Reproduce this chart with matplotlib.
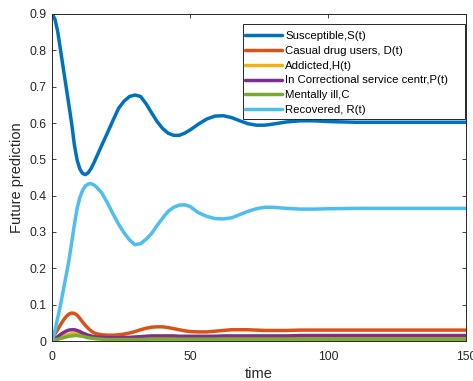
import matplotlib
matplotlib.use("Agg")
import matplotlib.pyplot as plt
from matplotlib.patches import Rectangle

plt.rcParams['font.family'] = ['Liberation Sans', 'DejaVu Sans']

# time grid of the simulation output
t = [0, 1, 2, 3, 4, 5, 6, 7, 8, 9, 10, 11, 12, 13, 14, 15, 16, 18, 20, 22, 24,
     26, 28, 30, 32, 34, 36, 38, 40, 42, 44, 46, 48, 50, 53, 56, 59, 62, 65,
     68, 71, 74, 77, 80, 85, 90, 95, 100, 110, 120, 130, 140, 150]

susceptible = [0.900, 0.885, 0.850, 0.800, 0.750, 0.700, 0.650, 0.600, 0.540,
               0.498, 0.473, 0.461, 0.458, 0.463, 0.474, 0.489, 0.506, 0.540,
               0.573, 0.607, 0.640, 0.660, 0.673, 0.677, 0.673, 0.653, 0.628,
               0.604, 0.585, 0.572, 0.566, 0.566, 0.572, 0.581, 0.597, 0.611,
               0.619, 0.620, 0.615, 0.606, 0.598, 0.594, 0.594, 0.597, 0.603,
               0.606, 0.606, 0.604, 0.602, 0.602, 0.602, 0.602, 0.602]

casual_users = [0.012, 0.020, 0.032, 0.045, 0.057, 0.067, 0.074, 0.077, 0.076,
                0.071, 0.062, 0.052, 0.043, 0.035, 0.028, 0.023, 0.020, 0.017,
                0.016, 0.016, 0.017, 0.019, 0.022, 0.026, 0.031, 0.035, 0.038,
                0.039, 0.039, 0.037, 0.034, 0.031, 0.028, 0.026, 0.025, 0.025,
                0.027, 0.029, 0.031, 0.031, 0.031, 0.030, 0.029, 0.029, 0.029,
                0.030, 0.030, 0.030, 0.030, 0.030, 0.030, 0.030, 0.030]

addicted = [0.002, 0.004, 0.007, 0.010, 0.013, 0.016, 0.018, 0.020, 0.021,
            0.021, 0.020, 0.018, 0.016, 0.014, 0.012, 0.010, 0.009, 0.008,
            0.007, 0.006, 0.006, 0.006, 0.006, 0.006, 0.007, 0.007, 0.008,
            0.008, 0.008, 0.008, 0.008, 0.007, 0.007, 0.007, 0.007, 0.007,
            0.007, 0.007, 0.007, 0.007, 0.007, 0.007, 0.007, 0.007, 0.007,
            0.007, 0.007, 0.007, 0.007, 0.007, 0.007, 0.007, 0.007]

correctional = [0.004, 0.007, 0.012, 0.018, 0.023, 0.027, 0.030, 0.031, 0.031,
                0.029, 0.026, 0.022, 0.019, 0.016, 0.014, 0.012, 0.011, 0.010,
                0.009, 0.009, 0.009, 0.010, 0.010, 0.011, 0.012, 0.013, 0.014,
                0.014, 0.014, 0.014, 0.014, 0.013, 0.013, 0.013, 0.013, 0.013,
                0.013, 0.014, 0.014, 0.014, 0.014, 0.014, 0.014, 0.014, 0.014,
                0.015, 0.015, 0.015, 0.015, 0.015, 0.015, 0.015, 0.015]

mentally_ill = [0.001, 0.003, 0.005, 0.007, 0.009, 0.011, 0.013, 0.014, 0.015,
                0.015, 0.014, 0.013, 0.011, 0.009, 0.008, 0.007, 0.006, 0.005,
                0.004, 0.004, 0.004, 0.004, 0.004, 0.004, 0.004, 0.005, 0.005,
                0.005, 0.005, 0.005, 0.005, 0.005, 0.005, 0.005, 0.005, 0.005,
                0.005, 0.005, 0.005, 0.005, 0.005, 0.005, 0.005, 0.005, 0.005,
                0.005, 0.005, 0.005, 0.005, 0.005, 0.005, 0.005, 0.005]

recovered = [0.000, 0.030, 0.065, 0.100, 0.140, 0.180, 0.220, 0.270, 0.320,
             0.365, 0.395, 0.415, 0.427, 0.432, 0.433, 0.430, 0.424, 0.407,
             0.380, 0.350, 0.322, 0.298, 0.278, 0.265, 0.268, 0.280, 0.296,
             0.318, 0.338, 0.357, 0.368, 0.374, 0.375, 0.370, 0.353, 0.343,
             0.337, 0.336, 0.339, 0.348, 0.357, 0.364, 0.368, 0.368, 0.365,
             0.363, 0.363, 0.364, 0.365, 0.365, 0.365, 0.365, 0.365]

labels = ['Susceptible,S(t)', 'Casual drug users, D(t)', 'Addicted,H(t)',
          'In Correctional service centr,P(t)', 'Mentally ill,C',
          'Recovered, R(t)']
colors = ['#0072BD', '#D95319', '#EDB120', '#7E2F8E', '#77AC30', '#4DBEEE']
series = [susceptible, casual_users, addicted, correctional, mentally_ill,
          recovered]

xticks = [0, 50, 100, 150]
yticks = [0, 0.1, 0.2, 0.3, 0.4, 0.5, 0.6, 0.7, 0.8, 0.9]

W, H = 473, 381
fig = plt.figure(figsize=(W / 100, H / 100), dpi=100)
ax = fig.add_axes([52.3 / W, 1 - 341 / H, (466 - 52.3) / W, (341 - 14) / H])

for y, c, lab in zip(series, colors, labels):
    ax.plot(t, y, color=c, lw=2.5, label=lab, solid_capstyle='round')

ax.set_xlim(0, 150)
ax.set_ylim(0, 0.9)
ax.set_xticks(xticks)
ax.set_xticklabels([str(v) for v in xticks])
ax.set_yticks(yticks)
ax.set_yticklabels(['0'] + [f'{v:.1f}' for v in yticks[1:]])
ax.tick_params(direction='in', top=True, right=True, length=3, width=0.6,
               labelsize=8.8, colors='#262626')
ax.tick_params(axis='x', pad=7)
ax.tick_params(axis='y', pad=4)
for s in ax.spines.values():
    s.set_linewidth(0.7)
    s.set_color('#262626')

ax.set_xlabel('time', fontsize=10.5, color='#262626', labelpad=3)
ax.set_ylabel('Future prediction', fontsize=10.5, color='#262626', labelpad=4)

# legend box in pixel layout: x 243..465, y 24..119
def ax_xy(px, py):
    return ((px - 52.3) / (466 - 52.3), (341 - py) / (341 - 14))

x0, y_top = ax_xy(243, 24)
x1, y_bot = ax_xy(465, 119)
ax.add_patch(Rectangle((x0, y_bot), x1 - x0, y_top - y_bot,
                       transform=ax.transAxes, facecolor='white',
                       edgecolor='#262626', linewidth=0.7, zorder=4))
lx, ly = ax_xy(243.5, 30)
leg = ax.legend(loc='upper left', bbox_to_anchor=(lx, ly),
                borderaxespad=0, fontsize=8.2, handlelength=3.3,
                handletextpad=0.25, labelspacing=0.42, borderpad=0.1,
                frameon=False)
leg.set_zorder(5)
for line in leg.get_lines():
    line.set_linewidth(2.5)

fig.savefig('out.png', dpi=100)
